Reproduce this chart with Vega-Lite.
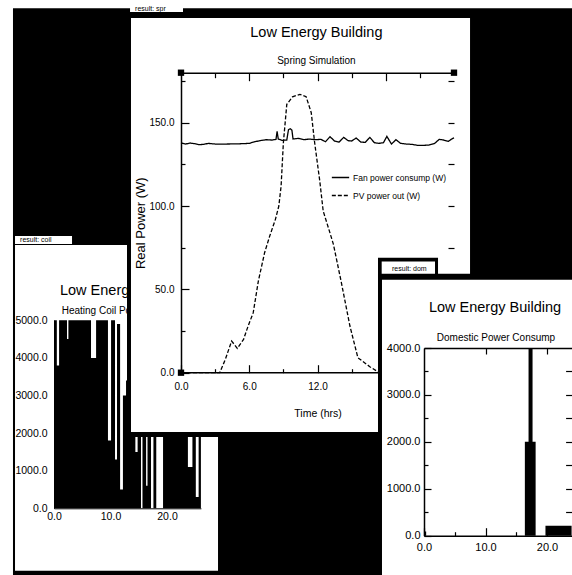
{
 "$schema": "https://vega.github.io/schema/vega-lite/v6.json",
 "width": 572, "height": 575, "autosize": "none", "padding": 0,
 "background": "white",
 "config": {
   "view": {"stroke": null},
   "font": "Liberation Sans",
   "axis": {"zindex": 1, "grid": false, "domainColor": "black", "tickColor": "black", "labelColor": "black", "titleColor": "black", "labelFont": "Liberation Sans", "titleFont": "Liberation Sans", "titleFontWeight": "normal", "domainWidth": 1.5, "tickWidth": 1.2, "labelOverlap": false, "labelFlush": false},
   "text": {"color": "black", "font": "Liberation Sans"}
 },
 "datasets": {
   "one": [{}],
   "power": [
     {"t":0,"p":137.8,"series":"Fan power consump (W)"},{"t":0.4,"p":137.2,"series":"Fan power consump (W)"},{"t":0.8,"p":137.8,"series":"Fan power consump (W)"},{"t":1.2,"p":137.4,"series":"Fan power consump (W)"},{"t":1.6,"p":136.8,"series":"Fan power consump (W)"},{"t":2.0,"p":137.0,"series":"Fan power consump (W)"},{"t":2.4,"p":137.6,"series":"Fan power consump (W)"},{"t":3,"p":137.2,"series":"Fan power consump (W)"},{"t":4,"p":137.2,"series":"Fan power consump (W)"},{"t":5,"p":137.3,"series":"Fan power consump (W)"},{"t":6,"p":137.6,"series":"Fan power consump (W)"},{"t":6.5,"p":138.6,"series":"Fan power consump (W)"},{"t":7,"p":139.3,"series":"Fan power consump (W)"},{"t":7.5,"p":139.8,"series":"Fan power consump (W)"},{"t":8,"p":139.6,"series":"Fan power consump (W)"},{"t":8.35,"p":140.0,"series":"Fan power consump (W)"},{"t":8.45,"p":144.8,"series":"Fan power consump (W)"},{"t":8.55,"p":140.2,"series":"Fan power consump (W)"},{"t":8.9,"p":139.4,"series":"Fan power consump (W)"},{"t":9.3,"p":139.6,"series":"Fan power consump (W)"},{"t":9.45,"p":145.8,"series":"Fan power consump (W)"},{"t":9.6,"p":146.4,"series":"Fan power consump (W)"},{"t":9.75,"p":145.5,"series":"Fan power consump (W)"},{"t":9.85,"p":140.2,"series":"Fan power consump (W)"},{"t":10.3,"p":140.6,"series":"Fan power consump (W)"},{"t":10.8,"p":139.8,"series":"Fan power consump (W)"},{"t":11.3,"p":140.2,"series":"Fan power consump (W)"},{"t":11.8,"p":139.8,"series":"Fan power consump (W)"},{"t":12.3,"p":140.0,"series":"Fan power consump (W)"},{"t":12.7,"p":138.6,"series":"Fan power consump (W)"},{"t":13.1,"p":141.6,"series":"Fan power consump (W)"},{"t":13.5,"p":139.0,"series":"Fan power consump (W)"},{"t":13.9,"p":138.4,"series":"Fan power consump (W)"},{"t":14.3,"p":141.2,"series":"Fan power consump (W)"},{"t":14.7,"p":139.2,"series":"Fan power consump (W)"},{"t":15.0,"p":139.0,"series":"Fan power consump (W)"},{"t":15.4,"p":140.8,"series":"Fan power consump (W)"},{"t":15.8,"p":138.4,"series":"Fan power consump (W)"},{"t":16.2,"p":138.2,"series":"Fan power consump (W)"},{"t":16.6,"p":141.2,"series":"Fan power consump (W)"},{"t":17.0,"p":138.0,"series":"Fan power consump (W)"},{"t":17.4,"p":137.6,"series":"Fan power consump (W)"},{"t":17.8,"p":138.0,"series":"Fan power consump (W)"},{"t":18.1,"p":141.8,"series":"Fan power consump (W)"},{"t":18.5,"p":137.2,"series":"Fan power consump (W)"},{"t":18.9,"p":139.8,"series":"Fan power consump (W)"},{"t":19.3,"p":137.6,"series":"Fan power consump (W)"},{"t":19.8,"p":137.2,"series":"Fan power consump (W)"},{"t":20.3,"p":137.0,"series":"Fan power consump (W)"},{"t":20.8,"p":136.4,"series":"Fan power consump (W)"},{"t":21.3,"p":136.4,"series":"Fan power consump (W)"},{"t":21.8,"p":136.6,"series":"Fan power consump (W)"},{"t":22.3,"p":137.6,"series":"Fan power consump (W)"},{"t":22.7,"p":140.0,"series":"Fan power consump (W)"},{"t":23.1,"p":139.6,"series":"Fan power consump (W)"},{"t":23.5,"p":138.8,"series":"Fan power consump (W)"},{"t":23.8,"p":140.2,"series":"Fan power consump (W)"},{"t":24,"p":141.0,"series":"Fan power consump (W)"},
     {"t":0,"p":0,"series":"PV power out (W)"},{"t":3.4,"p":0,"series":"PV power out (W)"},{"t":3.9,"p":8,"series":"PV power out (W)"},{"t":4.45,"p":19,"series":"PV power out (W)"},{"t":4.95,"p":14.6,"series":"PV power out (W)"},{"t":5.5,"p":20,"series":"PV power out (W)"},{"t":5.9,"p":28,"series":"PV power out (W)"},{"t":6.35,"p":36,"series":"PV power out (W)"},{"t":6.8,"p":55,"series":"PV power out (W)"},{"t":7.35,"p":72,"series":"PV power out (W)"},{"t":7.8,"p":82,"series":"PV power out (W)"},{"t":8.3,"p":92,"series":"PV power out (W)"},{"t":8.6,"p":100,"series":"PV power out (W)"},{"t":8.8,"p":112,"series":"PV power out (W)"},{"t":9.0,"p":138,"series":"PV power out (W)"},{"t":9.3,"p":161,"series":"PV power out (W)"},{"t":9.8,"p":165.5,"series":"PV power out (W)"},{"t":10.45,"p":167,"series":"PV power out (W)"},{"t":11.0,"p":165.6,"series":"PV power out (W)"},{"t":11.45,"p":156,"series":"PV power out (W)"},{"t":11.75,"p":138,"series":"PV power out (W)"},{"t":12.2,"p":115,"series":"PV power out (W)"},{"t":12.5,"p":97,"series":"PV power out (W)"},{"t":13.0,"p":86,"series":"PV power out (W)"},{"t":13.4,"p":77,"series":"PV power out (W)"},{"t":14.1,"p":54,"series":"PV power out (W)"},{"t":14.85,"p":28,"series":"PV power out (W)"},{"t":15.55,"p":9,"series":"PV power out (W)"},{"t":16.6,"p":3.6,"series":"PV power out (W)"},{"t":17.3,"p":0.6,"series":"PV power out (W)"},{"t":17.6,"p":0,"series":"PV power out (W)"},{"t":24,"p":0,"series":"PV power out (W)"}
   ],
   "heating": [
     {"t":0,"v":5000},{"t":0.5,"v":3800},{"t":0.9,"v":5000},{"t":2.3,"v":4500},{"t":2.55,"v":5000},{"t":6.55,"v":4000},{"t":7.45,"v":5000},{"t":9.55,"v":1800},{"t":10.1,"v":5000},{"t":10.8,"v":1300},{"t":11.15,"v":4900},{"t":11.7,"v":500},{"t":12.2,"v":3000},{"t":12.75,"v":3400},{"t":13.6,"v":1900},{"t":14.4,"v":1500},{"t":14.8,"v":1900},{"t":15.4,"v":0},{"t":15.66,"v":1900},{"t":16.3,"v":600},{"t":16.55,"v":1900},{"t":17.17,"v":0},{"t":17.6,"v":1900},{"t":18.1,"v":0},{"t":19.3,"v":1900},{"t":23.7,"v":1100},{"t":24.5,"v":1900},{"t":25.1,"v":300},{"t":25.6,"v":1900},{"t":26,"v":1900}
   ],
   "domestic": [
     {"t":0,"v":90},{"t":0.35,"v":0},{"t":16.4,"v":2000},{"t":17.0,"v":4000},{"t":17.65,"v":2000},{"t":18.15,"v":0},{"t":19.75,"v":210},{"t":24,"v":210}
   ]
 },
 "resolve": {"scale": {"x": "independent", "y": "independent"}, "axis": {"x": "independent", "y": "independent"}},
 "layer": [
  {
   "resolve": {"axis": {"x": "independent", "y": "independent"}},
   "layer": [
    {"data": {"values": [{"x0": -7.26, "x1": 92, "y0": -1800, "y1": 13300}]},
     "mark": {"type": "rect", "color": "black"},
     "encoding": {"x": {"field": "x0", "type": "quantitative", "scale": {"domain": [0, 26], "range": [54, 200.9], "nice": false, "zero": false}, "axis": null}, "x2": {"field": "x1"},
                  "y": {"field": "y0", "type": "quantitative", "scale": {"domain": [0, 5000], "range": [508.3, 320.3], "nice": false, "zero": false}, "axis": null}, "y2": {"field": "y1"}}},
    {"data": {"values": [{"x0": -6.9, "x1": 29.03, "y0": -1663, "y1": 7004}, {"x0": -6.9, "x1": 3.19, "y0": 7030, "y1": 7242}]},
     "mark": {"type": "rect", "color": "white"},
     "encoding": {"x": {"field": "x0", "type": "quantitative", "scale": {"domain": [0, 26], "range": [54, 200.9], "nice": false, "zero": false}, "axis": null}, "x2": {"field": "x1"},
                  "y": {"field": "y0", "type": "quantitative", "scale": {"domain": [0, 5000], "range": [508.3, 320.3], "nice": false, "zero": false}, "axis": null}, "y2": {"field": "y1"}}},
    {"data": {"name": "one"},
     "mark": {"type": "text", "text": "result: coil", "fontSize": 7, "align": "left", "baseline": "alphabetic"},
     "encoding": {"x": {"datum": -6.0, "type": "quantitative", "scale": {"domain": [0, 26], "range": [54, 200.9], "nice": false, "zero": false}, "axis": null},
                  "y": {"datum": 7070, "type": "quantitative", "scale": {"domain": [0, 5000], "range": [508.3, 320.3], "nice": false, "zero": false}, "axis": null}}},
    {"data": {"name": "one"},
     "mark": {"type": "text", "text": "Low Energy Building", "fontSize": 14.5, "align": "left", "baseline": "alphabetic", "limit": 78, "ellipsis": "\u200b"},
     "encoding": {"x": {"datum": 1.06, "type": "quantitative", "scale": {"domain": [0, 26], "range": [54, 200.9], "nice": false, "zero": false}, "axis": null},
                  "y": {"datum": 5674, "type": "quantitative", "scale": {"domain": [0, 5000], "range": [508.3, 320.3], "nice": false, "zero": false}, "axis": null}}},
    {"data": {"name": "one"},
     "mark": {"type": "text", "text": "Heating Coil Power (W)", "fontSize": 10, "align": "left", "baseline": "alphabetic", "limit": 70, "ellipsis": "\u200b"},
     "encoding": {"x": {"datum": 1.36, "type": "quantitative", "scale": {"domain": [0, 26], "range": [54, 200.9], "nice": false, "zero": false}, "axis": null},
                  "y": {"datum": 5168, "type": "quantitative", "scale": {"domain": [0, 5000], "range": [508.3, 320.3], "nice": false, "zero": false}, "axis": null}}},
    {"data": {"name": "heating"},
     "mark": {"type": "area", "interpolate": "step-after", "color": "black", "opacity": 1},
     "encoding": {"x": {"field": "t", "type": "quantitative", "scale": {"domain": [0, 26], "range": [54, 200.9], "nice": false, "zero": false},
                        "axis": {"zindex": 1, "orient": "bottom", "offset": -66.7, "values": [0, 10, 20], "format": ".1f", "ticks": false, "labelPadding": 3, "labelFontSize": 10.5, "title": null, "domainWidth": 1}},
                  "y": {"field": "v", "type": "quantitative", "scale": {"domain": [0, 5000], "range": [508.3, 320.3], "nice": false, "zero": false},
                        "axis": {"zindex": 1, "orient": "left", "offset": -54, "values": [0, 1000, 2000, 3000, 4000, 5000], "format": ".1f", "ticks": false, "labelPadding": 7, "labelFontSize": 10.5, "title": null, "domainWidth": 1}}}}
   ]
  },
  {
   "resolve": {"axis": {"x": "independent", "y": "independent"}},
   "layer": [
    {"data": {"values": [{"x0": -4.747, "x1": 25.67, "y0": -38.6, "y1": 214.6}]},
     "mark": {"type": "rect", "color": "black"},
     "encoding": {"x": {"field": "x0", "type": "quantitative", "scale": {"domain": [0, 24], "range": [181, 454], "nice": false, "zero": false}, "axis": null}, "x2": {"field": "x1"},
                  "y": {"field": "y0", "type": "quantitative", "scale": {"domain": [0, 180], "range": [372.7, 72.7], "nice": false, "zero": false}, "axis": null}, "y2": {"field": "y1"}}},
    {"data": {"values": [{"x0": -4.396, "x1": 25.41, "y0": -35.6, "y1": 212.8}, {"x0": -4.48, "x1": 0.176, "y0": 216.4, "y1": 223.6}]},
     "mark": {"type": "rect", "color": "white"},
     "encoding": {"x": {"field": "x0", "type": "quantitative", "scale": {"domain": [0, 24], "range": [181, 454], "nice": false, "zero": false}, "axis": null}, "x2": {"field": "x1"},
                  "y": {"field": "y0", "type": "quantitative", "scale": {"domain": [0, 180], "range": [372.7, 72.7], "nice": false, "zero": false}, "axis": null}, "y2": {"field": "y1"}}},
    {"data": {"name": "one"},
     "mark": {"type": "text", "text": "result: spr", "fontSize": 7, "align": "left", "baseline": "alphabetic"},
     "encoding": {"x": {"datum": -4.04, "type": "quantitative", "scale": {"domain": [0, 24], "range": [181, 454], "nice": false, "zero": false}, "axis": null},
                  "y": {"datum": 217.3, "type": "quantitative", "scale": {"domain": [0, 180], "range": [372.7, 72.7], "nice": false, "zero": false}, "axis": null}}},
    {"data": {"name": "one"},
     "mark": {"type": "text", "text": "Low Energy Building", "fontSize": 14.5, "align": "center", "baseline": "alphabetic"},
     "encoding": {"x": {"datum": 11.9, "type": "quantitative", "scale": {"domain": [0, 24], "range": [181, 454], "nice": false, "zero": false}, "axis": null},
                  "y": {"datum": 201.4, "type": "quantitative", "scale": {"domain": [0, 180], "range": [372.7, 72.7], "nice": false, "zero": false}, "axis": null}}},
    {"data": {"name": "one"},
     "mark": {"type": "text", "text": "Spring Simulation", "fontSize": 10, "align": "center", "baseline": "alphabetic"},
     "encoding": {"x": {"datum": 11.9, "type": "quantitative", "scale": {"domain": [0, 24], "range": [181, 454], "nice": false, "zero": false}, "axis": null},
                  "y": {"datum": 185.2, "type": "quantitative", "scale": {"domain": [0, 180], "range": [372.7, 72.7], "nice": false, "zero": false}, "axis": null}}},
    {"data": {"name": "one"},
     "mark": {"type": "rule", "color": "black", "strokeWidth": 1.5},
     "encoding": {"x": {"datum": 0, "type": "quantitative", "scale": {"domain": [0, 24], "range": [181, 454], "nice": false, "zero": false}, "axis": null},
                  "x2": {"datum": 24},
                  "y": {"datum": 0, "type": "quantitative", "scale": {"domain": [0, 180], "range": [372.7, 72.7], "nice": false, "zero": false}, "axis": null}}},
    {"data": {"name": "power"},
     "mark": {"type": "line", "color": "black", "strokeWidth": 1.3},
     "encoding": {"x": {"field": "t", "type": "quantitative", "scale": {"domain": [0, 24], "range": [181, 454], "nice": false, "zero": false},
                        "axis": {"zindex": 1, "orient": "bottom", "offset": -202.3, "values": [0, 3, 6, 9, 12, 15], "labelExpr": "datum.value % 6 === 0 ? format(datum.value, '.1f') : ''", "domain": false,
                                 "tickSize": {"condition": {"test": "datum.value % 6 === 0", "value": -8}, "value": -4}, "labelPadding": 17, "labelFontSize": 10,
                                 "title": "Time (hrs)", "titlePadding": 13, "titleFontSize": 10.5}},
                  "y": {"field": "p", "type": "quantitative", "scale": {"domain": [0, 180], "range": [372.7, 72.7], "nice": false, "zero": false},
                        "axis": {"zindex": 1, "orient": "left", "offset": -181, "values": [0, 25, 50, 75, 100, 125, 150, 175], "labelExpr": "datum.value % 50 === 0 ? format(datum.value, '.1f') : ''",
                                 "tickSize": {"condition": {"test": "datum.value % 50 === 0", "value": -8}, "value": -4}, "labelPadding": 15, "labelFontSize": 10,
                                 "title": "Real Power (W)", "titleFontSize": 13, "titlePadding": 1}},
                  "strokeDash": {"field": "series", "type": "nominal",
                                 "scale": {"domain": ["Fan power consump (W)", "PV power out (W)"], "range": [[1, 0], [4, 2]]},
                                 "legend": {"orient": "none", "legendX": 331, "legendY": 168, "title": null, "symbolType": "stroke", "symbolSize": 300, "symbolStrokeColor": "black", "symbolStrokeWidth": 1.5, "labelFontSize": 8.5, "labelFont": "Liberation Sans", "labelColor": "black", "rowPadding": 4, "labelOffset": 3, "padding": 0}}}},
    {"data": {"values": [{"t": 0, "p": 180}, {"t": 24, "p": 180}, {"t": 0, "p": 0}]},
     "mark": {"type": "point", "shape": "square", "filled": true, "size": 40, "color": "black", "opacity": 1},
     "encoding": {"x": {"field": "t", "type": "quantitative", "scale": {"domain": [0, 24], "range": [181, 454], "nice": false, "zero": false},
                        "axis": {"zindex": 1, "orient": "top", "offset": -72.7, "values": [3, 6, 9, 12, 15, 18, 21], "labels": false, "tickSize": {"condition": {"test": "datum.value % 6 === 0", "value": -8}, "value": -5}, "title": null}},
                  "y": {"field": "p", "type": "quantitative", "scale": {"domain": [0, 180], "range": [372.7, 72.7], "nice": false, "zero": false},
                        "axis": {"zindex": 1, "orient": "right", "offset": -118, "values": [75, 100, 125, 150, 175], "labels": false, "domain": false, "tickSize": -6, "title": null}}}}
   ]
  },
  {
   "resolve": {"axis": {"x": "independent", "y": "independent"}},
   "layer": [
    {"data": {"values": [{"x0": -7.48, "x1": 2.28, "y0": 5494, "y1": 5921}, {"x0": -7.48, "x1": 24.2, "y0": -900, "y1": 5580}]},
     "mark": {"type": "rect", "color": "black"},
     "encoding": {"x": {"field": "x0", "type": "quantitative", "scale": {"domain": [0, 24], "range": [424, 571.6], "nice": false, "zero": false}, "axis": null}, "x2": {"field": "x1"},
                  "y": {"field": "y0", "type": "quantitative", "scale": {"domain": [0, 4000], "range": [535.7, 348], "nice": false, "zero": false}, "axis": null}, "y2": {"field": "y1"}}},
    {"data": {"values": [{"x0": -6.88, "x1": 1.79, "y0": 5580, "y1": 5842}, {"x0": -6.83, "x1": 24.2, "y0": -900, "y1": 5452}]},
     "mark": {"type": "rect", "color": "white"},
     "encoding": {"x": {"field": "x0", "type": "quantitative", "scale": {"domain": [0, 24], "range": [424, 571.6], "nice": false, "zero": false},
                        "axis": {"zindex": 1, "orient": "top", "offset": -348, "values": [10, 20], "labels": false, "tickSize": -6, "title": null}}, "x2": {"field": "x1"},
                  "y": {"field": "y0", "type": "quantitative", "scale": {"domain": [0, 4000], "range": [535.7, 348], "nice": false, "zero": false},
                        "axis": {"zindex": 1, "orient": "right", "offset": -0.4, "values": [500, 1000, 1500, 2000, 2500, 3000, 3500], "labels": false, "domain": false, "tickSize": -6, "title": null}}, "y2": {"field": "y1"}}},
    {"data": {"name": "one"},
     "mark": {"type": "text", "text": "result: dom", "fontSize": 7, "align": "left", "baseline": "alphabetic"},
     "encoding": {"x": {"datum": -5.2, "type": "quantitative", "scale": {"domain": [0, 24], "range": [424, 571.6], "nice": false, "zero": false}, "axis": null},
                  "y": {"datum": 5633, "type": "quantitative", "scale": {"domain": [0, 4000], "range": [535.7, 348], "nice": false, "zero": false}, "axis": null}}},
    {"data": {"name": "one"},
     "mark": {"type": "text", "text": "Low Energy Building", "fontSize": 14.5, "align": "center", "baseline": "alphabetic"},
     "encoding": {"x": {"datum": 11.55, "type": "quantitative", "scale": {"domain": [0, 24], "range": [424, 571.6], "nice": false, "zero": false}, "axis": null},
                  "y": {"datum": 4769, "type": "quantitative", "scale": {"domain": [0, 4000], "range": [535.7, 348], "nice": false, "zero": false}, "axis": null}}},
    {"data": {"name": "one"},
     "mark": {"type": "text", "text": "Domestic Power Consump", "fontSize": 10, "align": "center", "baseline": "alphabetic"},
     "encoding": {"x": {"datum": 11.7, "type": "quantitative", "scale": {"domain": [0, 24], "range": [424, 571.6], "nice": false, "zero": false}, "axis": null},
                  "y": {"datum": 4151, "type": "quantitative", "scale": {"domain": [0, 4000], "range": [535.7, 348], "nice": false, "zero": false}, "axis": null}}},
    {"data": {"name": "domestic"},
     "mark": {"type": "area", "interpolate": "step-after", "color": "black", "opacity": 1},
     "encoding": {"x": {"field": "t", "type": "quantitative", "scale": {"domain": [0, 24], "range": [424, 571.6], "nice": false, "zero": false},
                        "axis": {"zindex": 1, "orient": "bottom", "offset": -39.3, "values": [0, 5, 10, 15, 20], "labelExpr": "datum.value % 10 === 0 ? format(datum.value, '.1f') : ''",
                                 "tickSize": {"condition": {"test": "datum.value % 10 === 0", "value": -8}, "value": -4}, "labelPadding": 14, "labelFontSize": 11, "title": null}},
                  "y": {"field": "v", "type": "quantitative", "scale": {"domain": [0, 4000], "range": [535.7, 348], "nice": false, "zero": false},
                        "axis": {"zindex": 1, "orient": "left", "offset": -424, "values": [0, 500, 1000, 1500, 2000, 2500, 3000, 3500, 4000], "labelExpr": "datum.value % 1000 === 0 ? format(datum.value, '.1f') : ''",
                                 "tickSize": {"condition": {"test": "datum.value % 1000 === 0", "value": -7}, "value": -4}, "labelPadding": 11, "labelFontSize": 11, "title": null}}}}
   ]
  }
 ]
}
